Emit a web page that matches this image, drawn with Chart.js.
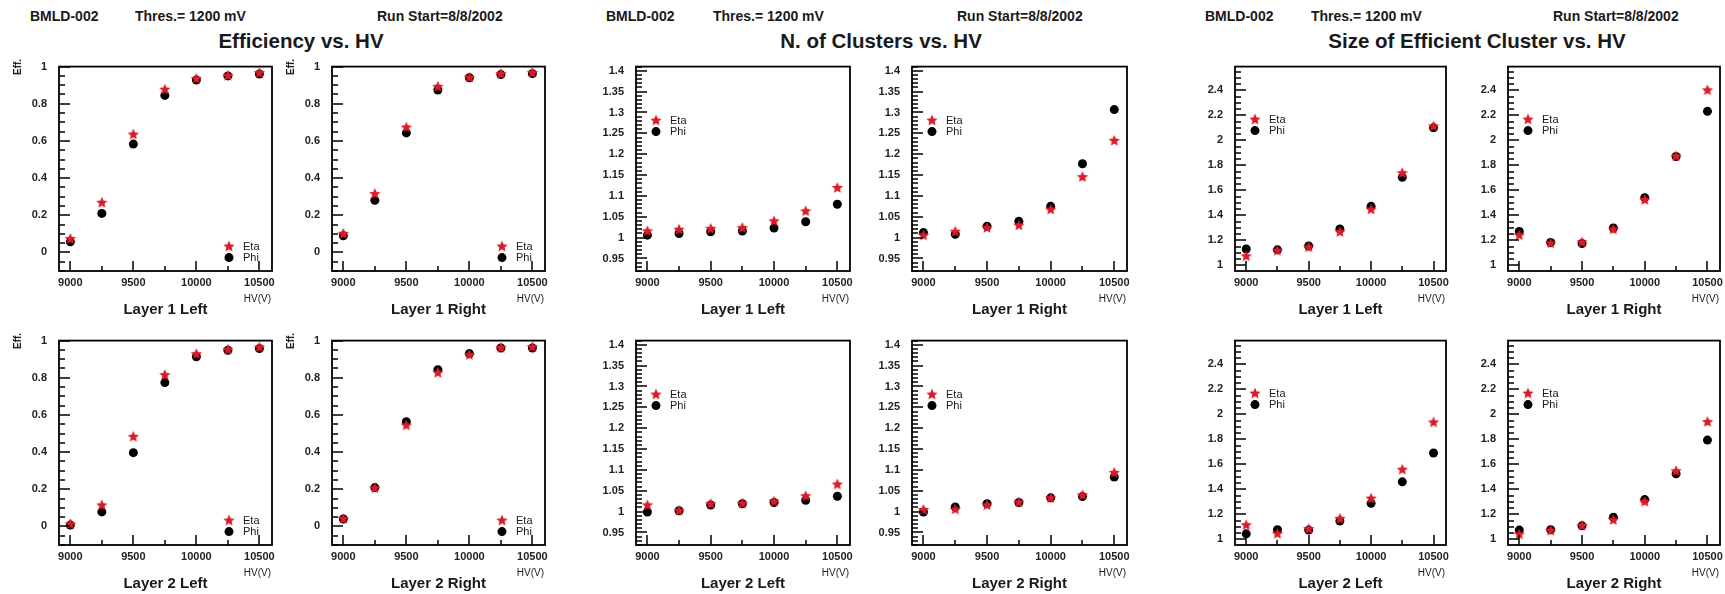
<!DOCTYPE html>
<html>
<head>
<meta charset="utf-8">
<script src="https://cdn.jsdelivr.net/npm/chart.js@4.4.0/dist/chart.umd.min.js"></script>
<style>
body { margin:0; background:#fff; width:1725px; height:594px; position:relative; overflow:hidden; font-family:"Liberation Sans", Arial, sans-serif; }
.t { position:absolute; white-space:nowrap; color:#1a1a1a; line-height:1; }
.hdr { font-size:14px; font-weight:bold; transform:translateY(-50%); }
.ttl { font-size:20.5px; font-weight:bold; transform:translate(-50%,-50%); }
.lay { font-size:15px; font-weight:bold; transform:translate(-50%,-50%); }
.hvl { font-size:10px; transform:translate(-100%,-50%); }
.eff { font-size:10px; font-weight:bold; transform:translate(-50%,-50%) rotate(-90deg); }
canvas { position:absolute; }
</style>
</head>
<body>
<script>
// HV points (V)
var hv = [9000, 9250, 9500, 9750, 10000, 10250, 10500];
var hvTicks = [9000, 9500, 10000, 10500];

// Efficiency
var effL1LeftEta  = [0.072, 0.267, 0.634, 0.876, 0.934, 0.950, 0.965];
var effL1LeftPhi  = [0.057, 0.210, 0.583, 0.845, 0.928, 0.950, 0.960];
var effL1RightEta = [0.100, 0.314, 0.672, 0.891, 0.940, 0.960, 0.966];
var effL1RightPhi = [0.090, 0.281, 0.643, 0.874, 0.940, 0.957, 0.962];
var effL2LeftEta  = [0.012, 0.113, 0.482, 0.814, 0.927, 0.951, 0.963];
var effL2LeftPhi  = [0.007, 0.078, 0.397, 0.774, 0.913, 0.948, 0.957];
var effL2RightEta = [0.040, 0.205, 0.543, 0.826, 0.922, 0.960, 0.965];
var effL2RightPhi = [0.040, 0.209, 0.563, 0.843, 0.930, 0.960, 0.960];
var effTicks = [0, 0.2, 0.4, 0.6, 0.8, 1];

// N. of clusters
var clusL1LeftEta  = [1.015, 1.019, 1.021, 1.023, 1.039, 1.063, 1.119];
var clusL1LeftPhi  = [1.006, 1.010, 1.014, 1.016, 1.023, 1.038, 1.080];
var clusL1RightEta = [1.005, 1.014, 1.023, 1.029, 1.067, 1.145, 1.232];
var clusL1RightPhi = [1.012, 1.008, 1.027, 1.039, 1.075, 1.177, 1.307];
var clusL2LeftEta  = [1.015, 1.002, 1.018, 1.019, 1.024, 1.037, 1.065];
var clusL2LeftPhi  = [0.999, 1.002, 1.016, 1.019, 1.022, 1.027, 1.037];
var clusL2RightEta = [1.004, 1.005, 1.015, 1.022, 1.032, 1.039, 1.093];
var clusL2RightPhi = [0.999, 1.011, 1.019, 1.022, 1.033, 1.036, 1.083];
var clusTicks = [0.95, 1, 1.05, 1.1, 1.15, 1.2, 1.25, 1.3, 1.35, 1.4];

// Size of efficient cluster
var sizeL1LeftEta  = [1.072, 1.116, 1.144, 1.266, 1.446, 1.737, 2.111];
var sizeL1LeftPhi  = [1.131, 1.124, 1.155, 1.291, 1.472, 1.704, 2.100];
var sizeL1RightEta = [1.240, 1.175, 1.183, 1.286, 1.523, 1.871, 2.400];
var sizeL1RightPhi = [1.271, 1.183, 1.175, 1.299, 1.541, 1.871, 2.232];
var sizeL2LeftEta  = [1.113, 1.044, 1.082, 1.164, 1.326, 1.557, 1.935];
var sizeL2LeftPhi  = [1.044, 1.077, 1.074, 1.146, 1.288, 1.460, 1.691];
var sizeL2RightEta = [1.039, 1.069, 1.108, 1.154, 1.300, 1.545, 1.938];
var sizeL2RightPhi = [1.074, 1.077, 1.108, 1.177, 1.318, 1.524, 1.794];
var sizeTicks = [1, 1.2, 1.4, 1.6, 1.8, 2, 2.2, 2.4];

var RED = '#dc1a28';
var tickFont = { family: '"Liberation Sans", Arial', size: 11, weight: 'bold' };

function makeStar(color, r) {
    var c = document.createElement('canvas');
    c.width = c.height = 2 * r + 2;
    var g = c.getContext('2d');
    g.fillStyle = color;
    g.beginPath();
    for (var i = 0; i < 10; i++) {
        var rr = i % 2 === 0 ? r : r * 0.45;
        var a = -Math.PI / 2 + i * Math.PI / 5;
        g.lineTo(r + 1 + rr * Math.cos(a), r + 1 + rr * Math.sin(a));
    }
    g.closePath();
    g.fill();
    return c;
}
var starImg = makeStar(RED, 6);

function addText(cls, txt, x, y) {
    var d = document.createElement('div');
    d.className = 't ' + cls;
    d.textContent = txt;
    d.style.left = x + 'px';
    d.style.top = y + 'px';
    document.body.appendChild(d);
}

// frame, inner ticks and legend
var rootFrame = {
    id: 'rootFrame',
    afterDraw: function(chart, args, o) {
        var ctx = chart.ctx, a = chart.chartArea, xs = chart.scales.x, ys = chart.scales.y;
        var yMinor = Number(o.yMinor), yMajor = Number(o.yMajor);
        var ratio = Math.round(yMajor / yMinor);
        var k0 = Math.ceil(ys.min / yMinor - 1e-6);
        ctx.save();
        ctx.fillStyle = '#000';
        // y ticks on the left edge
        for (var k = k0; k * yMinor <= ys.max + 1e-9; k++) {
            var py = Math.round(ys.getPixelForValue(k * yMinor));
            var len = (k % ratio === 0) ? 11 : 6;
            ctx.fillRect(a.left, py - 0.75, len, 1.5);
        }
        // x ticks on the bottom edge
        for (var i = 0; i < hv.length; i++) {
            var px = Math.round(xs.getPixelForValue(hv[i]));
            var l2 = (hv[i] % 500 === 0) ? 10 : 5;
            ctx.fillRect(px - 0.75, a.bottom - l2, 1.5, l2);
        }
        ctx.strokeStyle = '#000';
        ctx.lineWidth = 1.8;
        ctx.strokeRect(a.left, a.top, a.right - a.left, a.bottom - a.top);
        // legend
        var lx = a.left + o.legX, ly = a.top + o.legY;
        ctx.drawImage(starImg, lx - starImg.width / 2, ly - starImg.height / 2);
        ctx.beginPath(); ctx.arc(lx, ly + 11, 4.5, 0, Math.PI * 2); ctx.fill();
        ctx.fillStyle = '#1a1a1a';
        ctx.font = '11px "Liberation Sans", Arial';
        ctx.textBaseline = 'middle';
        ctx.fillText('Eta', lx + 14, ly);
        ctx.fillText('Phi', lx + 14, ly + 11);
        ctx.restore();
    }
};

function fmt(v) { return String(Number(v.toFixed(3))); }

function makePanel(p) {
    var padL = 55, padT = 10, padR = 18, padB = 24;
    var cv = document.createElement('canvas');
    var w = p.x1 - p.x0, h = p.y1 - p.y0;
    cv.width = w + padL + padR;
    cv.height = h + padT + padB;
    cv.style.left = (p.x0 - padL) + 'px';
    cv.style.top = (p.y0 - padT) + 'px';
    document.body.appendChild(cv);
    new Chart(cv.getContext('2d'), {
        type: 'scatter',
        data: {
            datasets: [
                { label: 'Eta', data: hv.map(function(x, i) { return { x: x, y: p.eta[i] }; }),
                  pointStyle: starImg, pointRadius: 6 },
                { label: 'Phi', data: hv.map(function(x, i) { return { x: x, y: p.phi[i] }; }),
                  pointStyle: 'circle', pointRadius: 4.5, backgroundColor: '#000', borderColor: '#000', borderWidth: 0 }
            ]
        },
        options: {
            responsive: false,
            animation: false,
            layout: { padding: { top: padT, right: padR, left: 0, bottom: 0 } },
            scales: {
                x: {
                    type: 'linear', min: 8910, max: 10600,
                    afterFit: function(s) { s.height = padB; },
                    afterBuildTicks: function(s) { s.ticks = hvTicks.map(function(v) { return { value: v }; }); },
                    grid: { display: false, drawTicks: false },
                    border: { display: false },
                    ticks: { padding: 5, font: tickFont, color: '#222', maxRotation: 0, autoSkip: false,
                             callback: function(v) { return String(v); } }
                },
                y: {
                    type: 'linear', min: p.ymin, max: p.ymax,
                    afterFit: function(s) { s.width = padL; },
                    afterBuildTicks: function(s) { s.ticks = p.ticks.map(function(v) { return { value: v }; }); },
                    grid: { display: false, drawTicks: false },
                    border: { display: false },
                    ticks: { padding: 12, font: tickFont, color: '#222', autoSkip: false,
                             callback: function(v) { return fmt(v); } }
                }
            },
            plugins: {
                legend: { display: false },
                tooltip: { enabled: false },
                rootFrame: { yMajor: p.yMajor, yMinor: p.yMinor, legX: p.legX, legY: p.legY }
            }
        },
        plugins: [rootFrame]
    });
}

var rows = [[58, 271], [332, 545]];
var groups = [
    { title: 'Efficiency vs. HV', hdr: [30, 135, 377], tx: 301, boxes: [[59, 272], [332, 545]],
      ymin: -0.1, ymax: 1.0, ticks: effTicks, yMajor: 0.2, yMinor: 0.05, legX: 170, legY: 180, effLabel: true,
      sets: [[effL1LeftEta, effL1LeftPhi], [effL1RightEta, effL1RightPhi], [effL2LeftEta, effL2LeftPhi], [effL2RightEta, effL2RightPhi]] },
    { title: 'N. of Clusters vs. HV', hdr: [606, 713, 957], tx: 881, boxes: [[636, 850], [912, 1127]],
      ymin: 0.92, ymax: 1.41, ticks: clusTicks, yMajor: 0.05, yMinor: 0.01, legX: 20, legY: 54, effLabel: false,
      sets: [[clusL1LeftEta, clusL1LeftPhi], [clusL1RightEta, clusL1RightPhi], [clusL2LeftEta, clusL2LeftPhi], [clusL2RightEta, clusL2RightPhi]] },
    { title: 'Size of Efficient Cluster vs. HV', hdr: [1205, 1311, 1553], tx: 1477, boxes: [[1235, 1446], [1508, 1720]],
      ymin: 0.955, ymax: 2.59, ticks: sizeTicks, yMajor: 0.2, yMinor: 0.05, legX: 20, legY: 53, effLabel: false,
      sets: [[sizeL1LeftEta, sizeL1LeftPhi], [sizeL1RightEta, sizeL1RightPhi], [sizeL2LeftEta, sizeL2LeftPhi], [sizeL2RightEta, sizeL2RightPhi]] }
];
var layerNames = [['Layer 1 Left', 'Layer 1 Right'], ['Layer 2 Left', 'Layer 2 Right']];

groups.forEach(function(g) {
    addText('hdr', 'BMLD-002', g.hdr[0], 16);
    addText('hdr', 'Thres.= 1200 mV', g.hdr[1], 16);
    addText('hdr', 'Run Start=8/8/2002', g.hdr[2], 16);
    addText('ttl', g.title, g.tx, 41);
    for (var r = 0; r < 2; r++) {
        for (var c = 0; c < 2; c++) {
            var b = g.boxes[c], row = rows[r];
            makePanel({ x0: b[0], x1: b[1], y0: row[0], y1: row[1], ymin: g.ymin, ymax: g.ymax, ticks: g.ticks,
                        yMajor: g.yMajor, yMinor: g.yMinor, legX: g.legX, legY: g.legY,
                        eta: g.sets[r * 2 + c][0], phi: g.sets[r * 2 + c][1] });
            addText('hvl', 'HV(V)', b[1] - 1, row[1] + 28);
            addText('lay', layerNames[r][c], (b[0] + b[1]) / 2, row[1] + 37);
            if (g.effLabel) addText('eff', 'Eff.', b[0] - 41, row[0] + 9);
        }
    }
});
</script>
</body>
</html>
